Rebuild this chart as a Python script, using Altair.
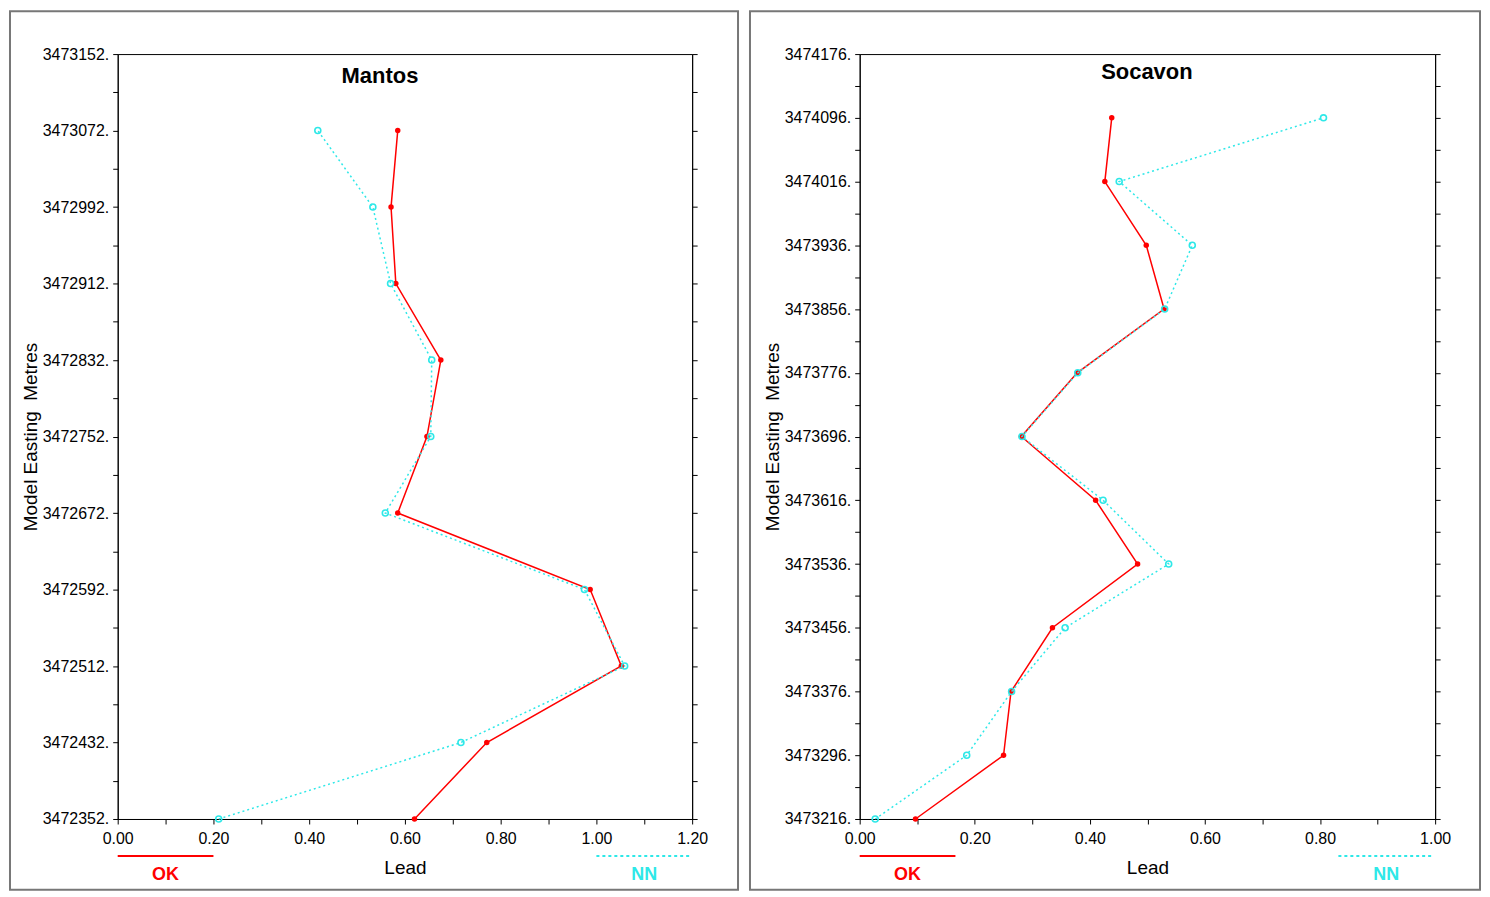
import altair as alt
import pandas as pd

# ---------------- data ----------------
mantos_easting = [3473072, 3472992, 3472912, 3472832, 3472752, 3472672, 3472592, 3472512, 3472432, 3472352]
mantos_ok = [0.585, 0.571, 0.581, 0.675, 0.646, 0.585, 0.987, 1.052, 0.771, 0.620]
mantos_nn = [0.418, 0.533, 0.570, 0.656, 0.654, 0.559, 0.975, 1.059, 0.717, 0.211]

socavon_easting = [3474096, 3474016, 3473936, 3473856, 3473776, 3473696, 3473616, 3473536, 3473456, 3473376, 3473296, 3473216]
socavon_ok = [0.438, 0.426, 0.498, 0.529, 0.378, 0.281, 0.410, 0.483, 0.335, 0.263, 0.250, 0.097]
socavon_nn = [0.806, 0.451, 0.578, 0.530, 0.379, 0.282, 0.423, 0.537, 0.357, 0.264, 0.186, 0.027]

RED = "#ff0000"
CYAN = "#2ee8e8"
FONT = "Liberation Sans"
H = 767


def panel(title, east, ok, nn, xmax, ymin, ymax, tdx, tdy, w, fl, fr):
    df = pd.DataFrame({
        "easting": east + east,
        "lead": ok + nn,
        "method": ["OK"] * len(east) + ["NN"] * len(east),
    })
    xticks = [round(i * 0.1, 1) for i in range(int(round(xmax * 10)) + 1)]
    yticks = list(range(ymin, ymax + 1, 40))
    xscale = alt.Scale(domain=[0, xmax], nice=False, zero=False)
    yscale = alt.Scale(domain=[ymin, ymax], nice=False, zero=False)

    base = alt.Chart(df)
    xe = alt.X("lead:Q", scale=xscale, axis=None)
    ye = alt.Y("easting:Q", scale=yscale, axis=None)
    order = alt.Order("easting:Q")

    ok_line = base.transform_filter(alt.datum.method == "OK").mark_line(
        color=RED, strokeWidth=1.5).encode(x=xe, y=ye, order=order)
    ok_pts = base.transform_filter(alt.datum.method == "OK").mark_circle(
        color=RED, size=30, opacity=1).encode(x=xe, y=ye)
    nn_line = base.transform_filter(alt.datum.method == "NN").mark_line(
        color=CYAN, strokeWidth=1.5, strokeDash=[2, 3]).encode(x=xe, y=ye, order=order)
    nn_pts = base.transform_filter(alt.datum.method == "NN").mark_point(
        color=CYAN, filled=False, size=36, strokeWidth=1.6, opacity=1).encode(x=xe, y=ye)

    left_axis = base.mark_point(opacity=0).encode(
        x=alt.X("lead:Q", scale=xscale, axis=alt.Axis(
            values=xticks, grid=False, labelFlush=False, labelOverlap=False,
            labelExpr="round(datum.value*10) % 2 == 0 ? format(datum.value, '.2f') : ''",
            title="Lead", titleFontSize=19, titleFontWeight="normal", titleFont=FONT,
            titlePadding=12, labelFontSize=16, labelFont=FONT, labelPadding=7,
            tickSize=5, labelColor="black", titleColor="black",
            domainColor="black", tickColor="black")),
        y=alt.Y("easting:Q", scale=yscale, axis=alt.Axis(
            values=yticks, grid=False, labelFlush=False, labelOverlap=False,
            labelExpr=f"(datum.value - {ymin}) % 80 == 0 ? format(datum.value, 'd') + '.' : ''",
            title="Model Easting\u00a0\u00a0Metres", titleFontSize=19, titleFontWeight="normal",
            titleFont=FONT, titlePadding=2, labelFontSize=16, labelFont=FONT,
            labelPadding=4, tickSize=5, labelColor="black", titleColor="black",
            domainColor="black", tickColor="black")),
    )
    right_axis = base.mark_point(opacity=0).encode(
        x=xe,
        y=alt.Y("easting:Q", scale=yscale, axis=alt.Axis(
            orient="right", values=yticks, labels=False, title=None, tickSize=5,
            grid=False, domainColor="black", tickColor="black")),
    )

    one = alt.Chart(pd.DataFrame({"k": [0]}))
    frame = one.mark_rect(fillOpacity=0, stroke="#777777", strokeWidth=2).encode(
        x=alt.value(fl), x2=alt.value(fr), y=alt.value(-43), y2=alt.value(838))
    ttl = one.mark_text(text=title, font=FONT, fontSize=22, fontWeight="bold",
                        color="black", align="center", baseline="middle").encode(
        x=alt.value(tdx), y=alt.value(tdy))
    leg_ok = one.mark_rule(color=RED, strokeWidth=2).encode(
        x=alt.value(0), x2=alt.value(96), y=alt.value(804))
    leg_nn = one.mark_rule(color=CYAN, strokeWidth=2, strokeDash=[3, 3]).encode(
        x=alt.value(480), x2=alt.value(573), y=alt.value(804))
    txt_ok = one.mark_text(text="OK", font=FONT, fontSize=18, fontWeight="bold",
                           color=RED, align="center", baseline="middle").encode(
        x=alt.value(48), y=alt.value(823))
    txt_nn = one.mark_text(text="NN", font=FONT, fontSize=18, fontWeight="bold",
                           color=CYAN, align="center", baseline="middle").encode(
        x=alt.value(528), y=alt.value(823))

    return alt.layer(
        left_axis, right_axis, ok_line, ok_pts, nn_line, nn_pts,
        frame, ttl, leg_ok, leg_nn, txt_ok, txt_nn,
    ).resolve_axis(x="independent", y="independent").properties(width=w, height=H)


left = panel("Mantos", mantos_easting, mantos_ok, mantos_nn, 1.2, 3472352, 3473152,
             263, 22, 576, -108, 622)
right = panel("Socavon", socavon_easting, socavon_ok, socavon_nn, 1.0, 3473216, 3474176,
              288, 18, 577, -110, 622)

chart = alt.hconcat(left, right, spacing=8).properties(
    padding=0, background="white"
).configure_view(
    stroke="black", strokeWidth=1
).configure_axis(
    domainColor="black", tickColor="black", grid=False, domainWidth=1, tickWidth=1
)

chart.save("out.html", embed_options={"renderer": "svg", "actions": False})
